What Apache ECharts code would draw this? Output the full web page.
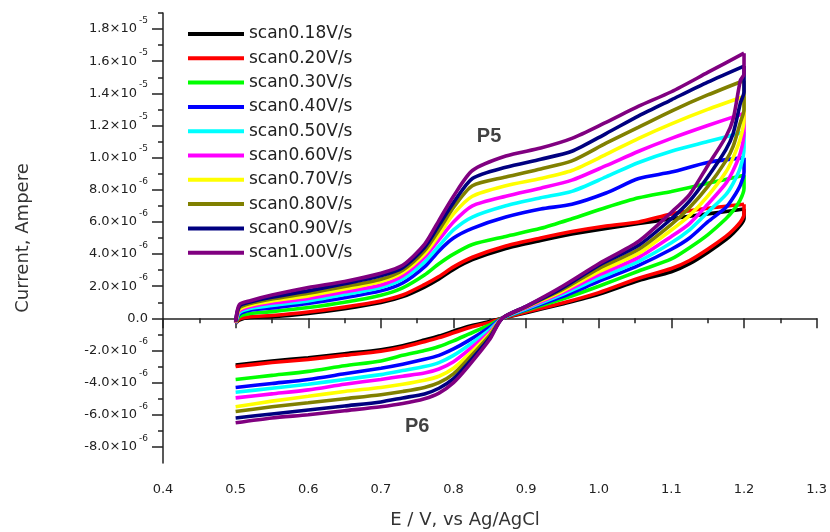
<!DOCTYPE html>
<html><head><meta charset="utf-8">
<script src="https://cdn.jsdelivr.net/npm/echarts@6/dist/echarts.min.js"></script>
<style>html,body{margin:0;padding:0;background:#fff}#c{width:830px;height:532px}</style>
</head><body><div id="c"></div>
<script>
// Current values are in units of 1e-6 A
const seriesNames = ['scan0.18V/s','scan0.20V/s','scan0.30V/s','scan0.40V/s','scan0.50V/s','scan0.60V/s','scan0.70V/s','scan0.80V/s','scan0.90V/s','scan1.00V/s'];
const seriesColors = ['#000000','#ff0000','#00ff00','#0000ff','#00ffff','#ff00ff','#ffff00','#808000','#000080','#800080'];

// forward (anodic) sweep potentials, V
const forwardV = [0.5, 0.505, 0.52, 0.55, 0.6, 0.65, 0.7, 0.73, 0.76, 0.78, 0.8, 0.826, 0.872, 0.92, 0.963, 1.01, 1.055, 1.1, 1.15, 1.2];
const fwd018 = [-0.3, -0.1, 0.05, 0.1, 0.31, 0.6, 0.98, 1.35, 1.95, 2.45, 3.05, 3.65, 4.35, 4.85, 5.25, 5.6, 5.9, 6.2, 6.5, 6.8];
const fwd020 = [-0.3, -0.05, 0.1, 0.18, 0.4, 0.7, 1.08, 1.45, 2.1, 2.6, 3.2, 3.8, 4.5, 5.0, 5.4, 5.75, 6.0, 6.5, 6.85, 7.1];
const fwd030 = [-0.3, 0.1, 0.3, 0.42, 0.67, 1.0, 1.44, 1.9, 2.7, 3.4, 4.0, 4.6, 5.1, 5.6, 6.2, 6.9, 7.5, 7.9, 8.4, 8.9];
const fwd040 = [-0.3, 0.25, 0.5, 0.65, 0.92, 1.28, 1.71, 2.2, 3.2, 4.2, 5.0, 5.6, 6.3, 6.8, 7.1, 7.8, 8.7, 9.1, 9.7, 10.0];
const fwd050 = [-0.3, 0.35, 0.62, 0.8, 1.08, 1.48, 1.92, 2.45, 3.5, 4.5, 5.5, 6.3, 7.0, 7.5, 7.9, 8.8, 9.7, 10.4, 11.0, 11.6];
const fwd060 = [-0.3, 0.45, 0.72, 0.95, 1.23, 1.65, 2.08, 2.65, 3.8, 4.9, 6.0, 7.0, 7.6, 8.1, 8.6, 9.5, 10.4, 11.2, 12.0, 12.75];
const fwd070 = [-0.25, 0.55, 0.82, 1.08, 1.4, 1.82, 2.29, 2.85, 4.0, 5.2, 6.5, 7.6, 8.25, 8.7, 9.2, 10.2, 11.2, 12.1, 13.0, 13.8];
const fwd080 = [-0.25, 0.65, 0.92, 1.2, 1.56, 1.98, 2.44, 3.0, 4.2, 5.5, 6.9, 8.25, 8.8, 9.3, 9.8, 10.9, 11.9, 12.9, 13.9, 14.8];
const fwd090 = [-0.2, 0.75, 1.02, 1.32, 1.71, 2.15, 2.65, 3.15, 4.4, 5.8, 7.2, 8.7, 9.4, 9.9, 10.4, 11.5, 12.6, 13.6, 14.7, 15.7];
const fwd100 = [-0.2, 0.85, 1.1, 1.45, 1.92, 2.3, 2.81, 3.3, 4.6, 6.1, 7.6, 9.2, 10.1, 10.6, 11.2, 12.2, 13.2, 14.1, 15.3, 16.5];

// reverse (cathodic) sweep potentials, V
const reverseV = [1.2, 1.195, 1.185, 1.175, 1.15, 1.125, 1.1, 1.055, 1.0, 0.95, 0.9, 0.867, 0.85, 0.82, 0.8, 0.78, 0.76, 0.73, 0.7, 0.65, 0.6, 0.55, 0.5];
const rev018 = [6.2, 5.8, 5.3, 4.9, 4.1, 3.4, 2.9, 2.35, 1.5, 0.9, 0.35, 0, -0.2, -0.5, -0.8, -1.1, -1.35, -1.7, -1.95, -2.2, -2.45, -2.65, -2.9];
const rev020 = [6.5, 6.0, 5.5, 5.1, 4.3, 3.6, 3.1, 2.5, 1.6, 0.95, 0.4, 0, -0.25, -0.6, -0.9, -1.2, -1.45, -1.8, -2.05, -2.3, -2.55, -2.75, -3.0];
const rev030 = [8.1, 7.4, 6.7, 6.2, 5.2, 4.4, 3.7, 2.95, 2.0, 1.2, 0.5, 0, -0.4, -1.0, -1.4, -1.75, -2.0, -2.3, -2.65, -2.95, -3.3, -3.55, -3.8];
const rev040 = [9.1, 8.3, 7.5, 6.9, 6.0, 5.0, 4.3, 3.3, 2.3, 1.35, 0.55, 0, -0.55, -1.4, -1.9, -2.3, -2.55, -2.85, -3.1, -3.45, -3.8, -4.05, -4.3];
const rev050 = [10.6, 9.4, 8.4, 7.7, 6.6, 5.5, 4.7, 3.55, 2.5, 1.5, 0.6, 0, -0.7, -1.7, -2.3, -2.75, -3.0, -3.25, -3.5, -3.8, -4.1, -4.35, -4.6];
const rev060 = [11.6, 10.3, 9.2, 8.4, 7.1, 5.9, 5.1, 3.8, 2.7, 1.6, 0.65, 0, -0.85, -2.0, -2.7, -3.15, -3.4, -3.6, -3.8, -4.1, -4.45, -4.7, -4.95];
const rev070 = [12.4, 11.2, 10.0, 9.1, 7.6, 6.4, 5.5, 4.05, 2.9, 1.7, 0.7, 0, -0.95, -2.3, -3.1, -3.6, -3.85, -4.1, -4.3, -4.55, -4.85, -5.15, -5.5];
const rev080 = [13.0, 12.2, 10.7, 9.8, 8.2, 6.9, 5.85, 4.3, 3.1, 1.8, 0.72, 0, -1.05, -2.55, -3.45, -4.0, -4.3, -4.55, -4.75, -5.0, -5.25, -5.5, -5.8];
const rev090 = [14.1, 13.4, 11.5, 10.5, 8.8, 7.3, 6.2, 4.55, 3.3, 1.9, 0.74, 0, -1.2, -2.8, -3.75, -4.35, -4.7, -4.95, -5.2, -5.45, -5.7, -5.95, -6.2];
const rev100 = [15.2, 14.8, 12.4, 11.3, 9.5, 7.7, 6.6, 4.8, 3.4, 2.0, 0.75, 0, -1.3, -3.0, -4.0, -4.65, -5.0, -5.3, -5.5, -5.75, -6.0, -6.2, -6.5];

const forwardSets = [fwd018, fwd020, fwd030, fwd040, fwd050, fwd060, fwd070, fwd080, fwd090, fwd100];
const reverseSets = [rev018, rev020, rev030, rev040, rev050, rev060, rev070, rev080, rev090, rev100];

// axis ticks (y in units of 1e-6 A)
const yMajorTicks = [-8, -6, -4, -2, 0, 2, 4, 6, 8, 10, 12, 14, 16, 18];
const yMinorTicks = [-7, -5, -3, -1, 1, 3, 5, 7, 9, 11, 13, 15, 17, 19];

// peak annotations
const peakLabels = ['P5', 'P6'];
const peakV = [0.849, 0.750];
const peakI = [11.3, -6.75];

const FONT = 'DejaVu Sans';

function yLabel(v) {
  const r = Math.round(v * 10) / 10;
  if (r === 0) return '{b|0.0}';
  let m, e;
  if (Math.abs(r) >= 10) { m = r / 10; e = '-5'; } else { m = r; e = '-6'; }
  return '{b|' + m.toFixed(1) + '×10}{s|' + e + '}';
}

const series = [];
seriesNames.forEach((name, i) => {
  const fw = forwardV.map((v, k) => [v, forwardSets[i][k]]);
  const rv = reverseV.map((v, k) => [v, reverseSets[i][k]]);
  const common = {
    name, type: 'line', showSymbol: false, symbol: 'none',
    smooth: 0.25,
    lineStyle: { color: seriesColors[i], width: 3.6 },
    itemStyle: { color: seriesColors[i] },
    z: 2 + i
  };
  series.push(Object.assign({}, common, { data: fw }));
  // reverse sweep joins the forward end at 1.2 V
  series.push(Object.assign({}, common, { data: [fw[fw.length - 1]].concat(rv) }));
});

series.push({
  type: 'scatter', name: 'peaks', symbolSize: 0, z: 20,
  data: peakLabels.map((p, k) => ({ name: p, value: [peakV[k], peakI[k]] })),
  label: { show: true, position: 'inside', formatter: '{b}', fontFamily: 'Liberation Sans', fontWeight: 'bold', fontSize: 20, color: '#111' }
});

const chart = echarts.init(document.getElementById('c'), null, { renderer: 'canvas' });
chart.setOption({
  animation: false,
  backgroundColor: '#fff',
  grid: { left: 163, right: 12, top: 13, bottom: 69, containLabel: false },
  legend: {
    data: seriesNames, orient: 'vertical', left: 183, top: 20,
    icon: 'rect', itemWidth: 56, itemHeight: 4, itemGap: 6.3,
    textStyle: { fontFamily: FONT, fontSize: 17, color: '#222', lineHeight: 18 }
  },
  xAxis: {
    type: 'value', min: 0.4, max: 1.3, interval: 0.1,
    axisLine: { show: true, lineStyle: { color: '#222', width: 1.5 } },
    axisTick: { show: true, length: 10, inside: false, lineStyle: { color: '#222', width: 1.5 } },
    minorTick: { show: true, splitNumber: 2, length: 5, lineStyle: { color: '#222', width: 1.5 } },
    splitLine: { show: false },
    axisLabel: { margin: 20, fontFamily: FONT, fontSize: 13, color: '#222', formatter: v => v.toFixed(1) }
  },
  yAxis: [{
    type: 'value', min: -9, max: 19,
    axisLine: { show: true, lineStyle: { color: '#222', width: 1.5 } },
    axisTick: { show: true, length: 11, customValues: yMajorTicks, lineStyle: { color: '#222', width: 1.5 } },
    splitLine: { show: false },
    axisLabel: {
      customValues: yMajorTicks, margin: 15, formatter: yLabel,
      rich: {
        b: { fontFamily: FONT, fontSize: 13, color: '#222', lineHeight: 26, verticalAlign: 'middle' },
        s: { fontFamily: FONT, fontSize: 9, color: '#222', lineHeight: 12, verticalAlign: 'top', padding: [0, 0, 0, 2] }
      }
    },
    name: 'Current, Ampere', nameLocation: 'middle', nameGap: 131,
    nameTextStyle: { fontFamily: FONT, fontSize: 18, color: '#333' }
  }, {
    type: 'value', min: -9, max: 19, position: 'left',
    axisLine: { show: false },
    axisTick: { show: true, length: 5, customValues: yMinorTicks, lineStyle: { color: '#222', width: 1.5 } },
    axisLabel: { show: false }, splitLine: { show: false }
  }],
  graphic: [{
    type: 'text', x: 465, y: 520,
    style: { text: 'E / V, vs Ag/AgCl', font: '18px "DejaVu Sans"', fill: '#333', textAlign: 'center', textVerticalAlign: 'middle' }
  }],
  series
});
</script></body></html>
